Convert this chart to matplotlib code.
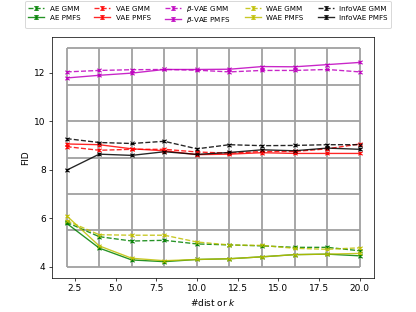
import numpy as np
import matplotlib
matplotlib.use("Agg")
import matplotlib.pyplot as plt
from matplotlib.container import ErrorbarContainer
from matplotlib.legend_handler import HandlerErrorbar

# number of distributions / k
ks = [2, 4, 6, 8, 10, 12, 14, 16, 18, 20]

ae_gmm = [5.83, 5.24, 5.06, 5.09, 4.94, 4.90, 4.86, 4.80, 4.80, 4.66]
ae_pmfs = [5.79, 4.77, 4.28, 4.21, 4.30, 4.33, 4.41, 4.50, 4.52, 4.45]
vae_gmm = [8.95, 8.80, 8.84, 8.84, 8.73, 8.68, 8.75, 8.75, 8.86, 9.06]
vae_pmfs = [9.06, 9.03, 8.86, 8.78, 8.62, 8.64, 8.70, 8.67, 8.67, 8.67]
bvae_gmm = [12.03, 12.09, 12.12, 12.13, 12.10, 12.03, 12.09, 12.09, 12.13, 12.03]
bvae_pmfs = [11.78, 11.89, 11.98, 12.13, 12.13, 12.14, 12.25, 12.24, 12.33, 12.42]
wae_gmm = [5.90, 5.32, 5.30, 5.30, 5.02, 4.90, 4.88, 4.76, 4.72, 4.78]
wae_pmfs = [6.10, 4.86, 4.35, 4.25, 4.30, 4.33, 4.41, 4.50, 4.52, 4.55]
info_gmm = [9.28, 9.12, 9.08, 9.17, 8.86, 9.03, 8.99, 9.00, 9.03, 9.03]
info_pmfs = [7.98, 8.64, 8.59, 8.74, 8.63, 8.71, 8.82, 8.78, 8.89, 8.84]

# small spread shown as error bars
err = [0.04] * len(ks)

# background grid lines
grid_x = [2, 4, 6, 8, 10, 12, 14, 16, 18, 20]
grid_y = [4, 5.5, 7, 8.5, 10, 11.5, 13]

series = [
    ("AE GMM", ae_gmm, "g", "--"),
    ("AE PMFS", ae_pmfs, "g", "-"),
    ("VAE GMM", vae_gmm, "r", "--"),
    ("VAE PMFS", vae_pmfs, "r", "-"),
    (r"$\beta$-VAE GMM", bvae_gmm, "m", "--"),
    (r"$\beta$-VAE PMFS", bvae_pmfs, "m", "-"),
    ("WAE GMM", wae_gmm, "y", "--"),
    ("WAE PMFS", wae_pmfs, "y", "-"),
    ("InfoVAE GMM", info_gmm, "k", "--"),
    ("InfoVAE PMFS", info_pmfs, "k", "-"),
]

fig, ax = plt.subplots(figsize=(6.4, 4.8), dpi=65)

ax.vlines(grid_x, min(grid_y), max(grid_y), color="#a0a0a0", linewidth=2, zorder=1)
ax.hlines(grid_y, min(grid_x), max(grid_x), color="#a0a0a0", linewidth=2, zorder=1)

for label, vals, color, ls in series:
    ax.errorbar(ks, vals, yerr=err, color=color, linestyle=ls, marker="x",
                markersize=5, capsize=2, label=label, alpha=0.85, zorder=3)

ax.set_xlabel("#dist or $k$")
ax.set_ylabel("FID")
# taller handle boxes keep the rows level across columns
fig.legend(loc="upper center", bbox_to_anchor=(0.5, 1.008), ncol=5,
           fontsize=7.9, handlelength=2.2, handleheight=1.25, labelspacing=0.2,
           handler_map={ErrorbarContainer: HandlerErrorbar(yerr_size=0.25)})

fig.savefig("out.png", dpi=65)
